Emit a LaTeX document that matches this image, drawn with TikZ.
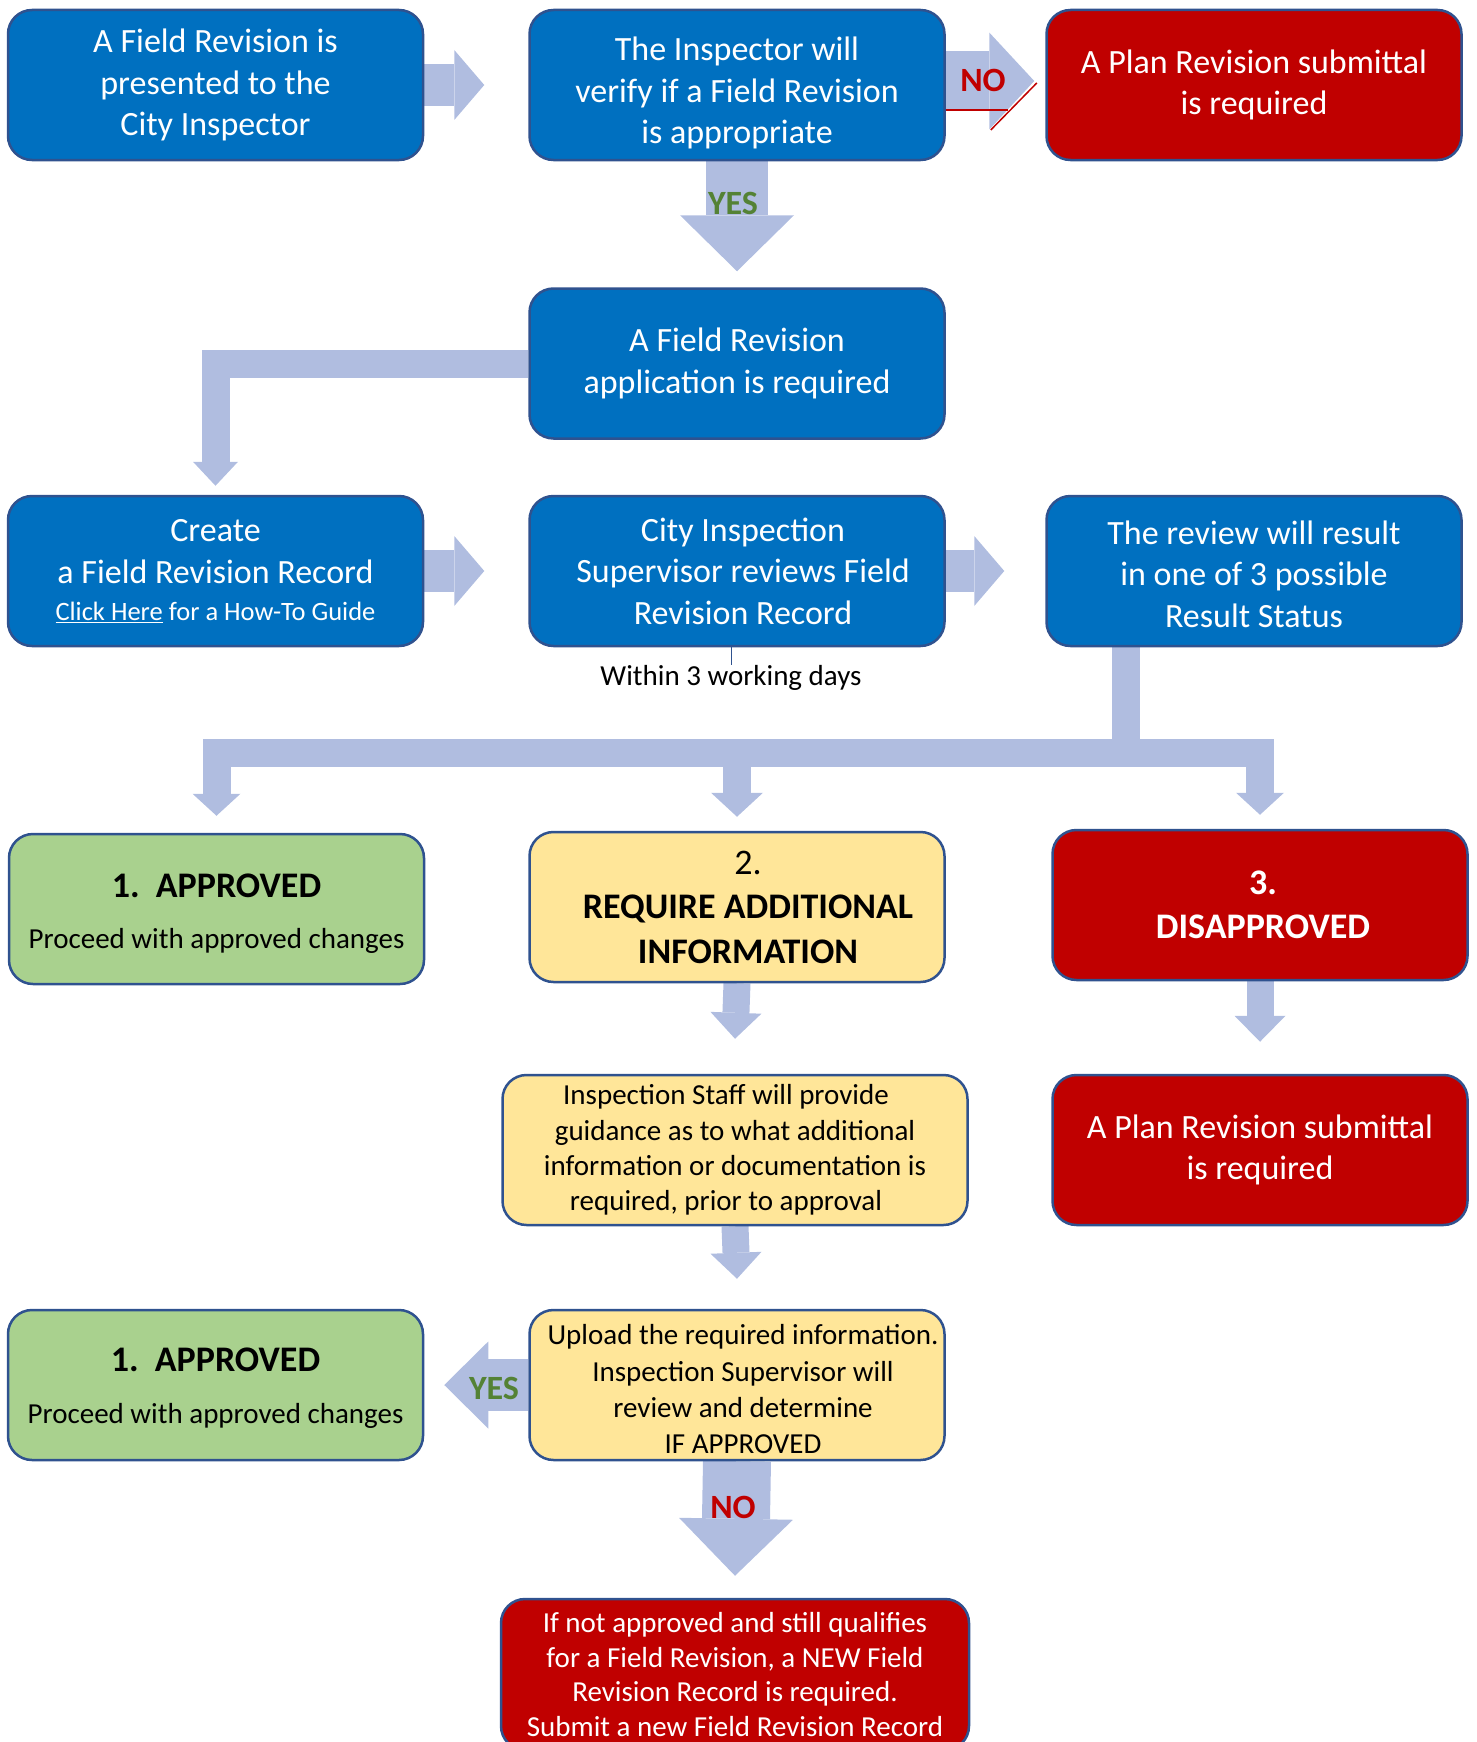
\documentclass[tikz,border=0pt]{standalone}
\usepackage{fontspec}
\setmainfont{Carlito}
\usetikzlibrary{arrows.meta,backgrounds}
\definecolor{boxblue}{RGB}{0,112,192}
\definecolor{boxred}{RGB}{192,0,0}
\definecolor{boxgreen}{RGB}{169,209,142}
\definecolor{boxyellow}{RGB}{255,230,153}
\definecolor{boxline}{RGB}{47,82,143}
\definecolor{flowc}{RGB}{176,189,224}
\definecolor{yesgreen}{RGB}{84,130,53}
\definecolor{nored}{RGB}{192,0,0}
\tikzset{
  card/.style={draw=boxline, line width=2.5pt, rounded corners=24pt, minimum width=415pt, minimum height=150pt, align=center, inner sep=0pt, font=\fontsize{34}{41.5}\selectfont},
  bluecard/.style={card, fill=boxblue, text=white},
  redcard/.style={card, fill=boxred, text=white},
  greencard/.style={card, fill=boxgreen, text=black},
  yellowcard/.style={card, fill=boxyellow, text=black},
  fat/.style n args={3}{draw=flowc, line width=#1, -{Triangle[length=#2,width=#3,line width=0pt]}},
  bar/.style={draw=flowc, line width=28pt},
  yeslabel/.style={text=yesgreen, inner sep=0pt, font=\fontsize{34}{40}\selectfont\bfseries},
  nolabel/.style={text=nored, inner sep=0pt, font=\fontsize{34}{40}\selectfont\bfseries},
  daylabel/.style={inner sep=0pt, font=\fontsize{29}{35}\selectfont},
}
\begin{document}
\begin{tikzpicture}[x=1pt,y=-1pt]
\useasboundingbox (0,0) rectangle (1476,1742);
\clip (0,0) rectangle (1476,1742);
\node[bluecard] (present) at (215.5,85) {A Field Revision is\\presented to the\\City Inspector};
\node[bluecard] (verify) at (737,85) {\rule{0pt}{39.5pt}The Inspector will\\verify if a Field Revision\\is appropriate};
\node[redcard] (planA) at (1254,85) {A Plan Revision submittal\\is required};
\node[bluecard] (appreq) at (737,363.5) {A Field Revision\\application is required};
\node[bluecard] (create) at (215.5,571) {Create\\a Field Revision Record\\[-4.5pt]{\fontsize{26.5}{32}\selectfont\underline{Click Here} for a How-To Guide}};
\node[bluecard] (review) at (737,571) {\hspace*{12pt}City Inspection\\\hspace*{12pt}Supervisor reviews Field\\\hspace*{12pt}Revision Record};
\node[bluecard] (result) at (1254,571) {\rule{0pt}{30pt}The review will result\\in one of 3 possible\\Result Status};
\node[greencard] (okA) at (216.5,909) {\fontsize{36}{44}\selectfont\rule{0pt}{32.5pt}\textbf{1.\ \ APPROVED}\\[10pt]{\fontsize{29}{35}\selectfont Proceed with approved changes}};
\node[yellowcard, font=\fontsize{36}{44.5}\selectfont] (moreinfo) at (737,907) {\hspace*{22pt}2.\\\hspace*{22pt}\textbf{REQUIRE ADDITIONAL}\\\hspace*{22pt}\textbf{INFORMATION}};
\node[redcard, font=\fontsize{36}{44}\selectfont\bfseries] (denied) at (1260,905) {\hspace*{6pt}3.\\\hspace*{6pt}DISAPPROVED};
\node[yellowcard, minimum width=465pt, font=\fontsize{29}{35.2}\selectfont] (guide) at (735,1150) {Inspection Staff will provide\hspace*{18pt}\\guidance as to what additional\hspace*{18pt}\\information or documentation is\hspace*{18pt}\\required, prior to approval\hspace*{18pt}};
\node[redcard] (planB) at (1260,1150) {A Plan Revision submittal\\is required};
\node[greencard] (okB) at (215.5,1385) {\fontsize{36}{44}\selectfont\rule{0pt}{30pt}\textbf{1.\ \ APPROVED}\\[10pt]{\fontsize{29}{35}\selectfont Proceed with approved changes}};
\node[yellowcard, font=\fontsize{29}{36.3}\selectfont] (upload) at (737,1385) {\hspace*{12pt}\rule{0pt}{29pt}Upload the required information.\\\hspace*{12pt}Inspection Supervisor will\\\hspace*{12pt}review and determine\\\hspace*{12pt}IF APPROVED};
\node[redcard, minimum width=468pt, minimum height=151pt, font=\fontsize{29}{34.8}\selectfont] (newrec) at (735,1674.5) {If not approved and still qualifies\\for a Field Revision, a NEW Field\\Revision Record is required.\\Submit a new Field Revision Record};
\node[daylabel] (days) at (731,678) {Within 3 working days};
\draw[boxline, line width=1pt] (review.south -| days.north) -- (days.north);
\coordinate (fork) at (1126,753);
\begin{scope}[on background layer]
\draw[fat={42pt}{30pt}{70pt}] (present.east) -- ([xshift=-44pt]verify.west);
\draw[fat={60pt}{45pt}{97pt}] ([yshift=4pt]verify.east) -- ([xshift=-11pt,yshift=4pt]planA.west);
\draw[fat={62pt}{56pt}{114pt}] (verify.south) -- ([yshift=16pt]appreq.north);
\draw[fat={28pt}{24pt}{45pt}] (appreq.west) -| ([yshift=9pt]create.north);
\draw[fat={42pt}{30pt}{70pt}] (create.east) -- ([xshift=-44pt]review.west);
\draw[fat={42pt}{30pt}{70pt}] (review.east) -- ([xshift=-41pt]result.west);
\draw[bar] (result.south -| fork) -- (fork);
\draw[fat={28pt}{22pt}{48pt}] (fork) -| ([yshift=17pt]okA.north);
\draw[fat={28pt}{22pt}{48pt}] (fork) -| ([yshift=14pt]denied.north);
\draw[fat={28pt}{24pt}{52pt}] (moreinfo.north |- fork) -- ([yshift=14pt]moreinfo.north);
\draw[fat={27pt}{26pt}{51pt}] (moreinfo.south) -- ([yshift=35pt]guide.north);
\draw[fat={27pt}{26pt}{51pt}] (denied.south) -- ([yshift=32pt]planB.north);
\draw[fat={27pt}{26pt}{51pt}] (guide.south) -- ([yshift=30pt]upload.north);
\draw[fat={52pt}{44pt}{87pt}] (upload.west) -- ([xshift=20pt]okB.east);
\draw[fat={68pt}{57pt}{114pt}] (upload.south) -- ([yshift=22pt]newrec.north);
\end{scope}
\draw[nored, line width=1.5pt] ([yshift=-25pt]verify.east) -- ++(62,0);
\draw[nored, line width=1.5pt] ([shift={(45,45)}]verify.east) -- ++(46,-47);
\node[yeslabel] (yesA) at (733,203) {YES};
\node[nolabel] (noA) at (983,80) {NO};
\node[yeslabel] (yesB) at (494,1388) {YES};
\node[nolabel] (noB) at (733,1507) {NO};
\end{tikzpicture}
\end{document}
